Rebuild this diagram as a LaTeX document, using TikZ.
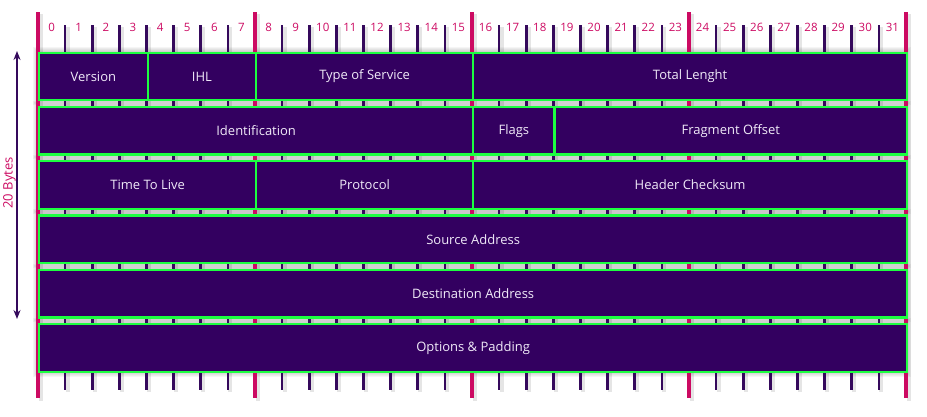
\documentclass[tikz,border=0pt]{standalone}
\usepackage{fontspec}
\setmainfont{Open Sans}
\usetikzlibrary{arrows.meta}
\definecolor{boxfill}{HTML}{330060}
\definecolor{boxline}{HTML}{1CFF40}
\definecolor{crim}{HTML}{CC0A62}
\definecolor{tickc}{HTML}{35095C}
\definecolor{txt}{HTML}{F0EAF8}
\tikzset{
  field/.style={draw=boxline, line width=2.3pt, fill=boxfill, text=txt, font=\fontsize{13}{15}\selectfont, inner sep=0pt},
  bitnum/.style={text=crim, font=\fontsize{11.5}{13}\selectfont, inner sep=0pt},
  majorline/.style={crim, line width=4.2pt},
  minorline/.style={tickc, line width=2.6pt},
  lineshadow/.style={black, opacity=0.10, line width=4pt},
}
\newcommand{\bx}[1]{38+#1*27.125}
\newcommand{\rowtop}[1]{51.5+#1*54.3}
\begin{document}
\begin{tikzpicture}[x=1pt,y=-1pt]
\useasboundingbox (0,0) rectangle (927,416);
% box shadows
\foreach \r in {0,...,5}{
  \foreach \d in {1,...,5}{
    \fill[black, opacity=0.04] ({\bx{0}-\d},{\rowtop{\r}-\d}) rectangle ({\bx{32}+\d},{\rowtop{\r}+47.5+\d+1});
  }
}
% ruler lines
\foreach \i in {0,...,32}{
  \pgfmathtruncatemacro{\m}{mod(\i,8)}
  \ifnum\m=0
    \draw[lineshadow] ({\bx{\i}+3},14) -- ({\bx{\i}+3},401);
    \draw[majorline] ({\bx{\i}},12) -- ({\bx{\i}},398);
  \else
    \draw[lineshadow] ({\bx{\i}+2.5},27) -- ({\bx{\i}+2.5},392);
    \draw[minorline] ({\bx{\i}},25) -- ({\bx{\i}},390);
  \fi
}
% bit numbers
\foreach \i in {0,...,31}{
  \node[bitnum] (n\i) at ({\bx{\i}+13.56},27) {\i};
}
% fields
\newcommand{\fld}[5]{%
  \node[field, minimum width={(#3-#2)*27.125}, minimum height=47.5, anchor=north west] (#1) at ({\bx{#2}},{\rowtop{#4}}) {#5};}
\fld{ver}{0}{4}{0}{Version}
\fld{ihl}{4}{8}{0}{IHL}
\fld{tos}{8}{16}{0}{Type of Service}
\fld{tlen}{16}{32}{0}{Total Lenght}
\fld{ident}{0}{16}{1}{Identification}
\fld{flags}{16}{19}{1}{Flags}
\fld{frag}{19}{32}{1}{Fragment Offset}
\fld{ttl}{0}{8}{2}{Time To Live}
\fld{proto}{8}{16}{2}{Protocol}
\fld{csum}{16}{32}{2}{Header Checksum}
\fld{src}{0}{32}{3}{Source Address}
\fld{dst}{0}{32}{4}{Destination Address}
\fld{opt}{0}{32}{5}{Options \& Padding}
% size arrow
\coordinate (atop) at (17,51);
\coordinate (abot) at (17,319);
\draw[tickc, line width=2pt, {Stealth[length=9pt,width=7pt]}-{Stealth[length=9pt,width=7pt]}] (abot) -- (atop);
\node[text=crim, font=\fontsize{13}{15}\selectfont, rotate=90, inner sep=0pt] (bytes) at (9.5,183) {20 Bytes};
\end{tikzpicture}
\end{document}
